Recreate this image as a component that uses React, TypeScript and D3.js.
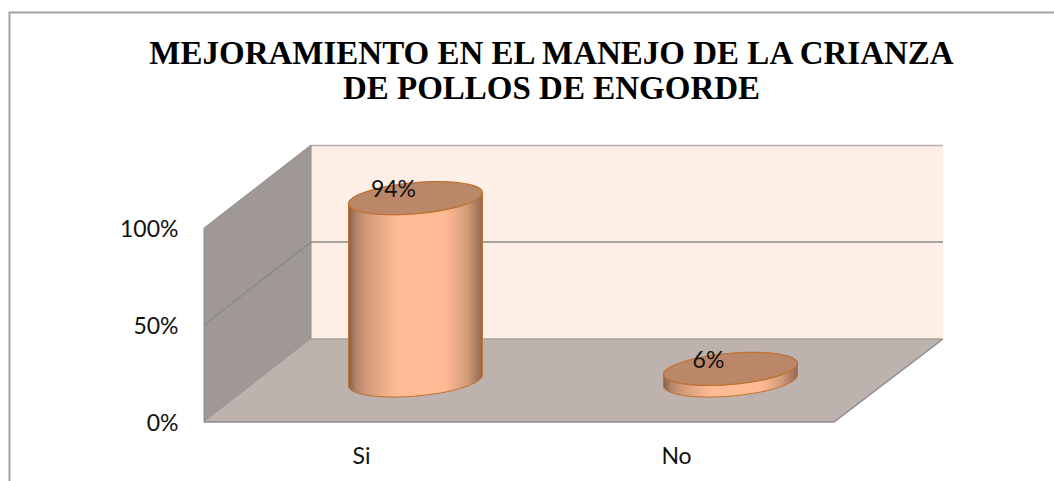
import React from "react";
import * as d3 from "d3";

const titleLines = ["MEJORAMIENTO EN EL MANEJO DE LA CRIANZA", "DE POLLOS DE ENGORDE"];
const categories = ["Si", "No"];
const values = [0.94, 0.06];
const valueLabels = ["94%", "6%"];
const ticks = [0, 0.5, 1];

const W = 1054, H = 481;
const left = 204, right = 834, bottom = 422, top = 228;
const depthX = 108, depthY = 83;

const x = d3.scaleBand<string>().domain(categories).range([left, right]);
const y = d3.scaleLinear().domain([0, 1]).range([bottom, top]);
const fmt = d3.format(".0%");

const ellA = 67, ellB = -5.5, ellC = 15.6;
const ellipsePoints = (cx: number, cy: number, t0: number, t1: number) =>
  d3.range(0, 49).map((i) => {
    const t = t0 + ((t1 - t0) * i) / 48;
    return [cx + ellA * Math.cos(t), cy + ellB * Math.cos(t) + ellC * Math.sin(t)] as [number, number];
  });
const line = d3.line();

export default function App() {
  const floor = line([
    [left, bottom], [right, bottom], [right + depthX + 1, bottom - depthY], [left + depthX - 1, bottom - depthY],
  ]) + "Z";
  const side = line([
    [left, bottom], [left, y(1)], [left + depthX - 1, y(1) - depthY], [left + depthX - 1, bottom - depthY],
  ]) + "Z";
  const backX0 = left + depthX - 1, backX1 = right + depthX + 1;
  return (
    <svg width={W} height={H} style={{ position: "absolute", left: 0, top: 0 }}>
      <defs>
        <linearGradient id="body" x1="0" x2="1" y1="0" y2="0">
          <stop offset="0" stopColor="#8a6048" />
          <stop offset="0.06" stopColor="#b5866a" />
          <stop offset="0.14" stopColor="#d29a7a" />
          <stop offset="0.36" stopColor="#ffbc94" />
          <stop offset="0.72" stopColor="#ffbc94" />
          <stop offset="0.88" stopColor="#d49c7b" />
          <stop offset="1" stopColor="#94684f" />
        </linearGradient>
      </defs>
      <rect x={0} y={0} width={W} height={H} fill="#fff" />
      <path d={`M9.5 ${H}V12.5H${W}`} fill="none" stroke="#a0a0a0" strokeWidth={2} />
      {titleLines.map((t, i) => (
        <text key={t} x={551.5} y={64 + i * 35} textAnchor="middle" fontFamily="Liberation Serif" fontWeight="bold" fontSize={33} fill="#000">
          {t}
        </text>
      ))}
      <rect x={backX0} y={y(1) - depthY} width={backX1 - backX0} height={y(0) - y(1)} fill="#fdeee6" />
      <path d={`M${backX0} ${y(1) - depthY + 0.5}H${backX1}`} stroke="#b5b0ad" strokeWidth={1.5} />
      <path d={side} fill="#a09894" stroke="#8f8f8c" strokeWidth={1} />
      <path d={floor} fill="#bdb2ae" />
      <path d={`M${left} ${bottom}H${right}L${backX1} ${bottom - depthY}`} fill="none" stroke="#8c8c8c" strokeWidth={1.5} />
      <path d={`M${backX0} ${bottom - depthY}H${backX1}`} stroke="#a8a09c" strokeWidth={1.5} />
      {ticks.slice(1, -1).map((t) => (
        <path key={t} fill="none" stroke="#8a8a88" strokeWidth={1.5}
          d={line([[left, y(t)], [backX0, y(t) - depthY], [backX1, y(t) - depthY]]) as string} />
      ))}
      {ticks.map((t) => (
        <text key={t} x={178.5} y={y(t) + 9} textAnchor="end" fontFamily="Lato" fontSize={23} fill="#111">
          {fmt(t)}
        </text>
      ))}
      {categories.map((c, i) => {
        const cx = x(c)! + x.bandwidth() / 2;
        const baseY = y(0) - depthY / 2;
        const topY = baseY - (y(0) - y(values[i]));
        const lowerBaseFlipped = ellipsePoints(cx + depthX / 2, baseY, 0, Math.PI);
        const upperFront = ellipsePoints(cx + depthX / 2, topY, Math.PI, 0);
        const body = (line([...upperFront, ...lowerBaseFlipped]) as string) + "Z";
        const lid = (line(ellipsePoints(cx + depthX / 2, topY, 0, 2 * Math.PI)) as string) + "Z";
        return (
          <g key={c}>
            <path d={body} fill="url(#body)" stroke="#c0702f" strokeWidth={1} />
            <path d={lid} fill="#ba8769" stroke="#c0702f" strokeWidth={1.2} />
            <text x={cx + depthX / 2 - 22} y={topY - 1} textAnchor="middle" fontFamily="Lato" fontSize={23} fill="#111">
              {valueLabels[i]}
            </text>
            <text x={cx} y={464} textAnchor="middle" fontFamily="Lato" fontSize={23} fill="#111">
              {c}
            </text>
          </g>
        );
      })}
    </svg>
  );
}
